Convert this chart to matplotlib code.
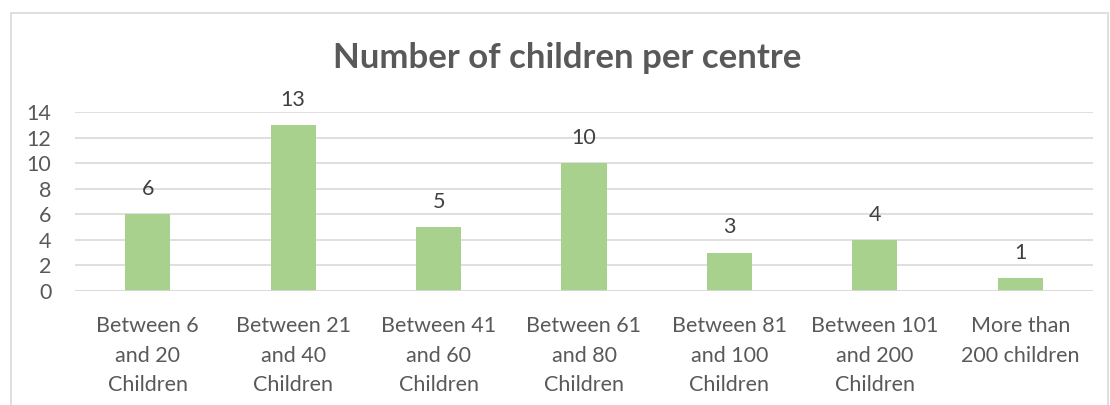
import matplotlib
matplotlib.use("Agg")
import matplotlib.pyplot as plt
from matplotlib.patches import Rectangle

categories = ["Between 6\nand 20\nChildren", "Between 21\nand 40\nChildren", "Between 41\nand 60\nChildren",
              "Between 61\nand 80\nChildren", "Between 81\nand 100\nChildren", "Between 101\nand 200\nChildren",
              "More than\n200 children"]
values = [6, 13, 5, 10, 3, 4, 1]
yticks = [0, 2, 4, 6, 8, 10, 12, 14]
title = "Number of children per centre"

plt.rcParams['font.family'] = ['Lato', 'DejaVu Sans']
W, H = 1110, 405
fig = plt.figure(figsize=(W/100, H/100), dpi=100)
fig.patch.set_facecolor('white')

# chart border
fig.add_artist(Rectangle((11/W, -0.01), (1108-11)/W, 1.01 - 13/H, transform=fig.transFigure,
                         fill=False, edgecolor='#D9D9D9', linewidth=1.2))

left, right = 75, 1093
top, bottom = 112, 291
ax = fig.add_axes([left/W, 1 - bottom/H, (right-left)/W, (bottom-top)/H])
x = list(range(len(values)))
bars = ax.bar(x, values, width=0.31, color='#A9D18E', zorder=3)
ax.set_xlim(-0.5, len(values) - 0.5)
ax.set_ylim(0, 14)
ax.set_yticks(yticks)
ax.set_xticks(x)
ax.set_xticklabels(categories, fontsize=15.5, color='#595959', linespacing=1.6)
ax.tick_params(axis='y', labelsize=15.5, labelcolor='#595959', length=0, pad=17)
ax.tick_params(axis='x', length=0, pad=18)
ax.grid(axis='y', color='#D9D9D9', linewidth=1.2, zorder=0)
for s in ax.spines.values():
    s.set_visible(False)
ax.axhline(0, color='#D9D9D9', linewidth=1.2, zorder=4)
for xi, v in zip(x, values):
    ax.annotate(str(v), (xi, v), xytext=(0, 11), textcoords='offset points',
                ha='center', va='bottom', fontsize=15.5, color='#404040')

fig.text(567/W, 1 - 58/H, title, ha='center', va='center', fontsize=25, fontweight='bold', color='#595959')

fig.savefig('out.png', dpi=100)
